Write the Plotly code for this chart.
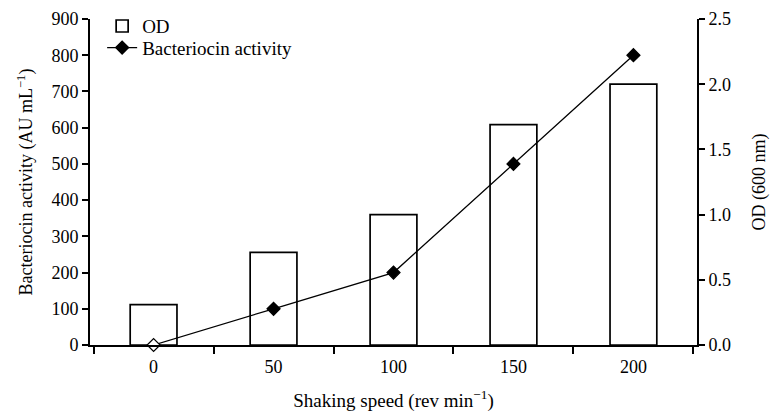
import plotly.graph_objects as go

speeds = ["0", "50", "100", "150", "200"]
od_values = [0.31, 0.71, 1.0, 1.69, 2.0]
bacteriocin_activity = [0, 100, 200, 500, 800]

FONT = "Liberation Serif"

fig = go.Figure()
fig.add_trace(go.Bar(
    x=speeds, y=od_values, name="OD", yaxis="y", legend="legend",
    marker=dict(color="white", line=dict(color="black", width=1.7)),
    width=0.39,
))
# Points listed from the last speed to the first so the legend shows a filled diamond;
# the drawn line is identical.
fig.add_trace(go.Scatter(
    x=speeds[::-1], y=bacteriocin_activity[::-1], name="Bacteriocin activity", yaxis="y2",
    legend="legend2",
    mode="lines+markers", cliponaxis=False,
    line=dict(color="black", width=1.3),
    marker=dict(symbol="diamond", size=10,
                color=["black"] * (len(speeds) - 1) + ["white"],
                line=dict(color="black", width=1.2)),
))

tick_font = dict(family=FONT, size=18, color="black")
legend_common = dict(x=0.02, xanchor="left", yanchor="middle",
                     bgcolor="rgba(0,0,0,0)", font=dict(family=FONT, size=19, color="black"),
                     itemwidth=30)

fig.update_layout(
    width=771, height=419,
    margin=dict(l=90, r=74, t=7, b=74),
    plot_bgcolor="white", paper_bgcolor="white",
    font=dict(family=FONT, size=16, color="black"),
    showlegend=True,
    legend=dict(y=0.978, **legend_common),
    legend2=dict(y=0.912, **legend_common),
    xaxis=dict(
        type="category", categoryorder="array", categoryarray=speeds,
        range=[-0.53, 4.53], automargin=False,
        showline=True, linecolor="black", linewidth=1.8,
        ticks="outside", tickson="boundaries", ticklen=7, tickwidth=1.5, tickcolor="black",
        tickfont=tick_font, ticklabelstandoff=4,
        showgrid=False, zeroline=False,
        title=dict(text="Shaking speed (rev min<sup>−1</sup>)", standoff=18,
                   font=dict(family=FONT, size=19)),
    ),
    yaxis=dict(
        range=[0, 2.5], dtick=0.5, tickformat=".1f", automargin=False,
        side="right", anchor="x",
        showline=True, linecolor="black", linewidth=2,
        ticks="outside", ticklen=6, tickwidth=2, tickcolor="black",
        tickfont=tick_font,
        showgrid=False, zeroline=False,
        title=dict(text="OD (600 nm)", standoff=22, font=dict(family=FONT, size=18)),
    ),
    yaxis2=dict(
        range=[0, 900], dtick=100, automargin=False,
        overlaying="y", side="left", anchor="x",
        showline=True, linecolor="black", linewidth=2,
        ticks="outside", ticklen=6, tickwidth=2, tickcolor="black",
        tickfont=tick_font,
        showgrid=False, zeroline=False,
        title=dict(text="Bacteriocin activity (AU mL<sup>−1</sup>)", standoff=14,
                   font=dict(family=FONT, size=18)),
    ),
)

fig.write_html("out.html")
